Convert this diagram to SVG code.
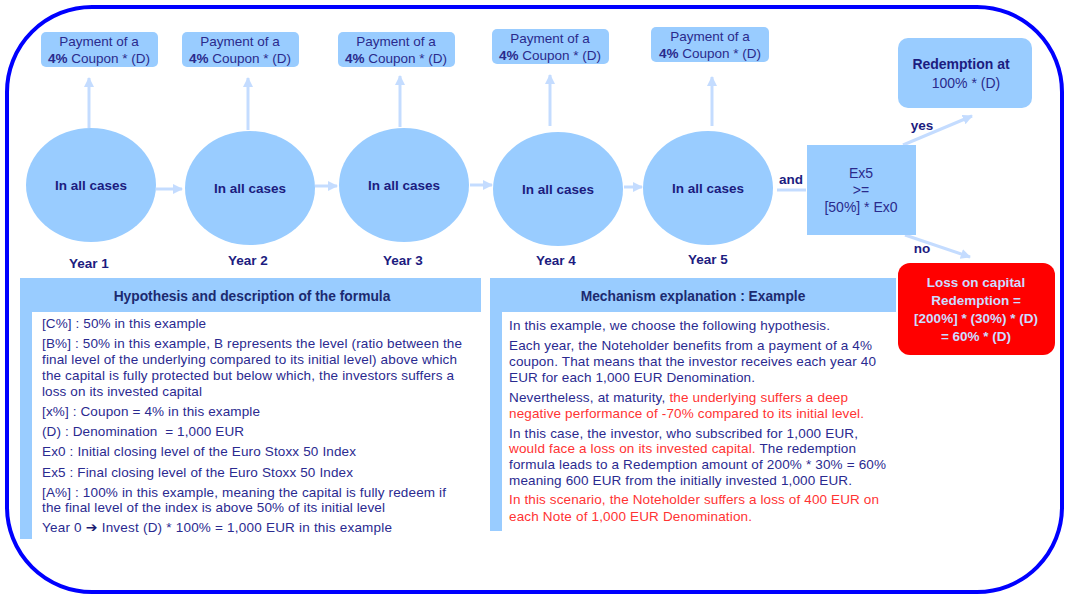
<svg xmlns="http://www.w3.org/2000/svg" width="1067" height="596" viewBox="0 0 1067 596">
<defs>
<marker id="ah" viewBox="0 0 10 10" refX="9" refY="5" markerWidth="3.4" markerHeight="3.4" orient="auto" markerUnits="strokeWidth">
<path d="M0,0 L10,5 L0,10 z" fill="#c4dcff"/>
</marker>
<style>
text{font-family:"Liberation Sans",Arial,sans-serif;}
.box{fill:#99ccff;}
.ell{fill:#99ccff;}
.cp{font-size:13.5px;fill:#2a2a8c;text-anchor:middle;}
.b{font-weight:bold;}
.lbl{font-size:13.5px;font-weight:bold;fill:#1c1c80;text-anchor:middle;}
.con{stroke:#c4dcff;stroke-width:3;fill:none;}
.hd{font-size:13.8px;font-weight:bold;fill:#1c2a70;text-anchor:middle;}
.tx{font-size:13.5px;fill:#2a2a90;}
.rd{fill:#ff3333;}
.loss{font-size:13.5px;font-weight:bold;fill:#ccdcff;text-anchor:middle;}
</style>
</defs>
<rect x="0" y="0" width="1067" height="596" fill="#ffffff"/>
<rect id="frame" x="7" y="7" width="1055" height="585" rx="85" ry="85" fill="none" stroke="#0000ff" stroke-width="4"/>

<g id="connectors">
<line class="con" x1="89" y1="128" x2="89" y2="78" marker-end="url(#ah)"/>
<line class="con" x1="248" y1="130" x2="248" y2="78" marker-end="url(#ah)"/>
<line class="con" x1="400" y1="127" x2="400" y2="76" marker-end="url(#ah)"/>
<line class="con" x1="550" y1="126" x2="550" y2="75" marker-end="url(#ah)"/>
<line class="con" x1="712" y1="126" x2="712" y2="77" marker-end="url(#ah)"/>
<line class="con" x1="156" y1="189" x2="182" y2="189" marker-end="url(#ah)"/>
<line class="con" x1="315" y1="186" x2="337" y2="186" marker-end="url(#ah)"/>
<line class="con" x1="470" y1="185" x2="492" y2="185" marker-end="url(#ah)"/>
<line class="con" x1="624" y1="187" x2="642" y2="187" marker-end="url(#ah)"/>
<line class="con" x1="777" y1="190" x2="806" y2="190"/>
<line class="con" x1="903" y1="145" x2="972" y2="116" marker-end="url(#ah)"/>
<line class="con" x1="905" y1="235" x2="970" y2="257" marker-end="url(#ah)"/>
<text class="lbl" x="791" y="184">and</text>
<text class="lbl" x="922" y="130">yes</text>
<text class="lbl" x="922" y="253">no</text>
</g>

<g id="coupon1"><rect class="box" x="41" y="32" width="117" height="35" rx="5"/>
<text class="cp" x="99" y="46">Payment of a</text><text class="cp" x="99" y="63"><tspan class="b">4%</tspan> Coupon * (D)</text></g>
<g id="coupon2"><rect class="box" x="182" y="32" width="117" height="35" rx="5"/>
<text class="cp" x="240" y="46">Payment of a</text><text class="cp" x="240" y="63"><tspan class="b">4%</tspan> Coupon * (D)</text></g>
<g id="coupon3"><rect class="box" x="338" y="32" width="117" height="35" rx="5"/>
<text class="cp" x="396" y="46">Payment of a</text><text class="cp" x="396" y="63"><tspan class="b">4%</tspan> Coupon * (D)</text></g>
<g id="coupon4"><rect class="box" x="492" y="29" width="117" height="35" rx="5"/>
<text class="cp" x="550" y="43">Payment of a</text><text class="cp" x="550" y="60"><tspan class="b">4%</tspan> Coupon * (D)</text></g>
<g id="coupon5"><rect class="box" x="651" y="27" width="118" height="35" rx="5"/>
<text class="cp" x="710" y="41">Payment of a</text><text class="cp" x="710" y="58"><tspan class="b">4%</tspan> Coupon * (D)</text></g>

<g id="year1"><ellipse class="ell" cx="91" cy="185" rx="65" ry="57"/><text class="lbl" x="91" y="190">In all cases</text><text class="lbl" x="89" y="268">Year 1</text></g>
<g id="year2"><ellipse class="ell" cx="250" cy="188" rx="65" ry="57"/><text class="lbl" x="250" y="193">In all cases</text><text class="lbl" x="248" y="265">Year 2</text></g>
<g id="year3"><ellipse class="ell" cx="404" cy="185" rx="65" ry="57"/><text class="lbl" x="404" y="190">In all cases</text><text class="lbl" x="403" y="265">Year 3</text></g>
<g id="year4"><ellipse class="ell" cx="558" cy="189" rx="65" ry="57"/><text class="lbl" x="558" y="194">In all cases</text><text class="lbl" x="556" y="265">Year 4</text></g>
<g id="year5"><ellipse class="ell" cx="708" cy="188" rx="65" ry="57"/><text class="lbl" x="708" y="193">In all cases</text><text class="lbl" x="708" y="264">Year 5</text></g>

<g id="condition"><rect class="box" x="807" y="145" width="109" height="90"/>
<text class="cp" x="861" y="178" style="font-size:14px">Ex5</text><text class="cp" x="861" y="195" style="font-size:14px">&gt;=</text><text class="cp" x="861" y="212" style="font-size:14px">[50%] * Ex0</text></g>

<g id="redemption"><rect class="box" x="898" y="38" width="134" height="70" rx="10"/>
<text class="lbl" x="961" y="69" style="font-size:14px">Redemption at</text><text class="cp" x="966" y="88" style="font-size:14px">100% * (D)</text></g>

<g id="loss"><rect x="898" y="263" width="157" height="92" rx="12" fill="#ff0000"/>
<text class="loss" x="976" y="287">Loss on capital</text><text class="loss" x="976" y="305">Redemption =</text>
<text class="loss" x="976" y="323">[200%] * (30%) * (D)</text><text class="loss" x="976" y="341">= 60% * (D)</text></g>

<g id="hypothesis">
<rect class="box" x="20" y="278" width="461" height="34"/>
<rect class="box" x="20" y="312" width="12" height="227"/>
<text class="hd" x="252" y="301">Hypothesis and description of the formula</text>
<text class="tx" x="42" y="328" textLength="164">[C%] : 50% in this example</text>
<text class="tx" x="42" y="348" textLength="420">[B%] : 50% in this example, B represents the level (ratio between the</text>
<text class="tx" x="42" y="364" textLength="415">final level of the underlying compared to its initial level) above which</text>
<text class="tx" x="42" y="380" textLength="412">the capital is fully protected but below which, the investors suffers a</text>
<text class="tx" x="42" y="396" textLength="160">loss on its invested capital</text>
<text class="tx" x="42" y="416" textLength="218">[x%] : Coupon = 4% in this example</text>
<text class="tx" x="42" y="436" textLength="202" xml:space="preserve">(D) : Denomination  = 1,000 EUR</text>
<text class="tx" x="42" y="456" textLength="314">Ex0 : Initial closing level of the Euro Stoxx 50 Index</text>
<text class="tx" x="42" y="477" textLength="311">Ex5 : Final closing level of the Euro Stoxx 50 Index</text>
<text class="tx" x="42" y="497" textLength="404">[A%] : 100% in this example, meaning the capital is fully redeem if</text>
<text class="tx" x="42" y="512" textLength="343">the final level of the index is above 50% of its initial level</text>
<text class="tx" x="42" y="532" textLength="350">Year 0 <tspan class="b" style="font-family:'DejaVu Sans',sans-serif;font-size:14px;fill:#1a1a70">➔</tspan> Invest (D) * 100% = 1,000 EUR in this example</text>
</g>

<g id="mechanism">
<rect class="box" x="490" y="278" width="406" height="34"/>
<rect class="box" x="490" y="312" width="12" height="219"/>
<text class="hd" x="693" y="301">Mechanism explanation : Example</text>
<text class="tx" x="509" y="330" textLength="321">In this example, we choose the following hypothesis.</text>
<text class="tx" x="509" y="350" textLength="363">Each year, the Noteholder benefits from a payment of a 4%</text>
<text class="tx" x="509" y="366" textLength="367">coupon. That means that the investor receives each year 40</text>
<text class="tx" x="509" y="382" textLength="246">EUR for each 1,000 EUR Denomination.</text>
<text class="tx" x="509" y="402" textLength="339">Nevertheless, at maturity, <tspan class="rd">the underlying suffers a deep</tspan></text>
<text class="tx rd" x="509" y="418" textLength="355">negative performance of -70% compared to its initial level.</text>
<text class="tx" x="509" y="438" textLength="349">In this case, the investor, who subscribed for 1,000 EUR,</text>
<text class="tx" x="509" y="453" textLength="347"><tspan class="rd">would face a loss on its invested capital.</tspan> The redemption</text>
<text class="tx" x="509" y="469" textLength="377">formula leads to a Redemption amount of 200% * 30% = 60%</text>
<text class="tx" x="509" y="485" textLength="343">meaning 600 EUR from the initially invested 1,000 EUR.</text>
<text class="tx rd" x="509" y="504" textLength="370">In this scenario, the Noteholder suffers a loss of 400 EUR on</text>
<text class="tx rd" x="509" y="521" textLength="243">each Note of 1,000 EUR Denomination.</text>
</g>
</svg>
